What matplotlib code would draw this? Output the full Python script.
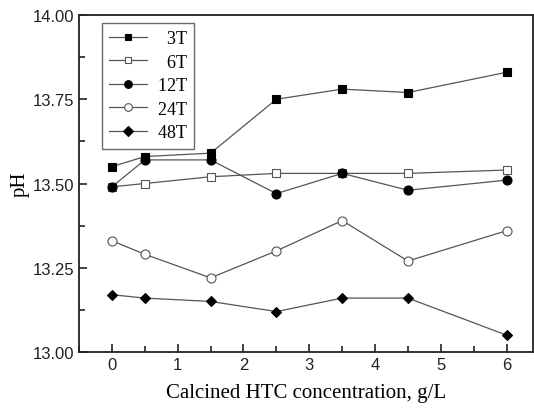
import matplotlib
matplotlib.use("Agg")
import matplotlib.pyplot as plt
from matplotlib.ticker import MultipleLocator

conc = [0, 0.5, 1.5, 2.5, 3.5, 4.5, 6]
ph_3t = [13.55, 13.58, 13.59, 13.75, 13.78, 13.77, 13.83]
ph_6t = [13.49, 13.50, 13.52, 13.53, 13.53, 13.53, 13.54]
ph_12t = [13.49, 13.57, 13.57, 13.47, 13.53, 13.48, 13.51]
ph_24t = [13.33, 13.29, 13.22, 13.30, 13.39, 13.27, 13.36]
ph_48t = [13.17, 13.16, 13.15, 13.12, 13.16, 13.16, 13.05]
labels = ["\u2007\u20073T", "\u2007\u20076T", "\u200712T", "\u200724T", "\u200748T"]

fig = plt.figure(figsize=(5.34, 4.10), dpi=100)
ax = fig.add_axes([0.148, 0.139, 0.850, 0.822])

styles = [
    dict(marker="s", mfc="black", mec="black", ms=5.8),
    dict(marker="s", mfc="white", mec="#555555", ms=5.8),
    dict(marker="o", mfc="black", mec="black", ms=6.5),
    dict(marker="o", mfc="white", mec="#555555", ms=6.5),
    dict(marker="D", mfc="black", mec="black", ms=5.5),
]
for ys, lab, st in zip([ph_3t, ph_6t, ph_12t, ph_24t, ph_48t], labels, styles):
    ax.plot(conc, ys, color="#555555", lw=0.9, label=lab, mew=0.8, **st)

ax.set_xlim(-0.5, 6.4)
ax.set_ylim(13.0, 14.0)
ax.xaxis.set_major_locator(MultipleLocator(1))
ax.xaxis.set_minor_locator(MultipleLocator(0.5))
ax.yaxis.set_major_locator(MultipleLocator(0.25))
ax.yaxis.set_minor_locator(MultipleLocator(0.125))
ax.tick_params(which="both", direction="in", top=False, right=False,
               length=6, width=1.2, labelsize=12, colors="#222222")
ax.tick_params(which="minor", length=4)
ax.set_yticks(ax.get_yticks())
ax.set_yticklabels([f"{v:.2f}" for v in ax.get_yticks()], family="Liberation Sans")
ax.set_xticks(ax.get_xticks())
ax.set_xticklabels([f"{int(v)}" for v in ax.get_xticks()], family="Liberation Sans")
ax.set_xlim(-0.5, 6.4)
ax.set_ylim(13.0, 14.0)
for sp in ax.spines.values():
    sp.set_linewidth(1.3)
    sp.set_color("#222222")

ax.set_xlabel("Calcined HTC concentration, g/L", family="Liberation Serif",
              fontsize=15, labelpad=8)
ax.set_ylabel("pH", family="Liberation Serif", fontsize=15, labelpad=2)

leg = ax.legend(loc="upper left", bbox_to_anchor=(0.0507, 0.976), frameon=True,
                fancybox=False, edgecolor="#444444",
                prop={"family": "Liberation Serif", "size": 13},
                handlelength=2.1, handletextpad=0.1, labelspacing=0.36,
                borderpad=0.4, borderaxespad=0.0, markerscale=0.85)
leg.get_frame().set_linewidth(1.0)

fig.savefig("out.png", dpi=100)
